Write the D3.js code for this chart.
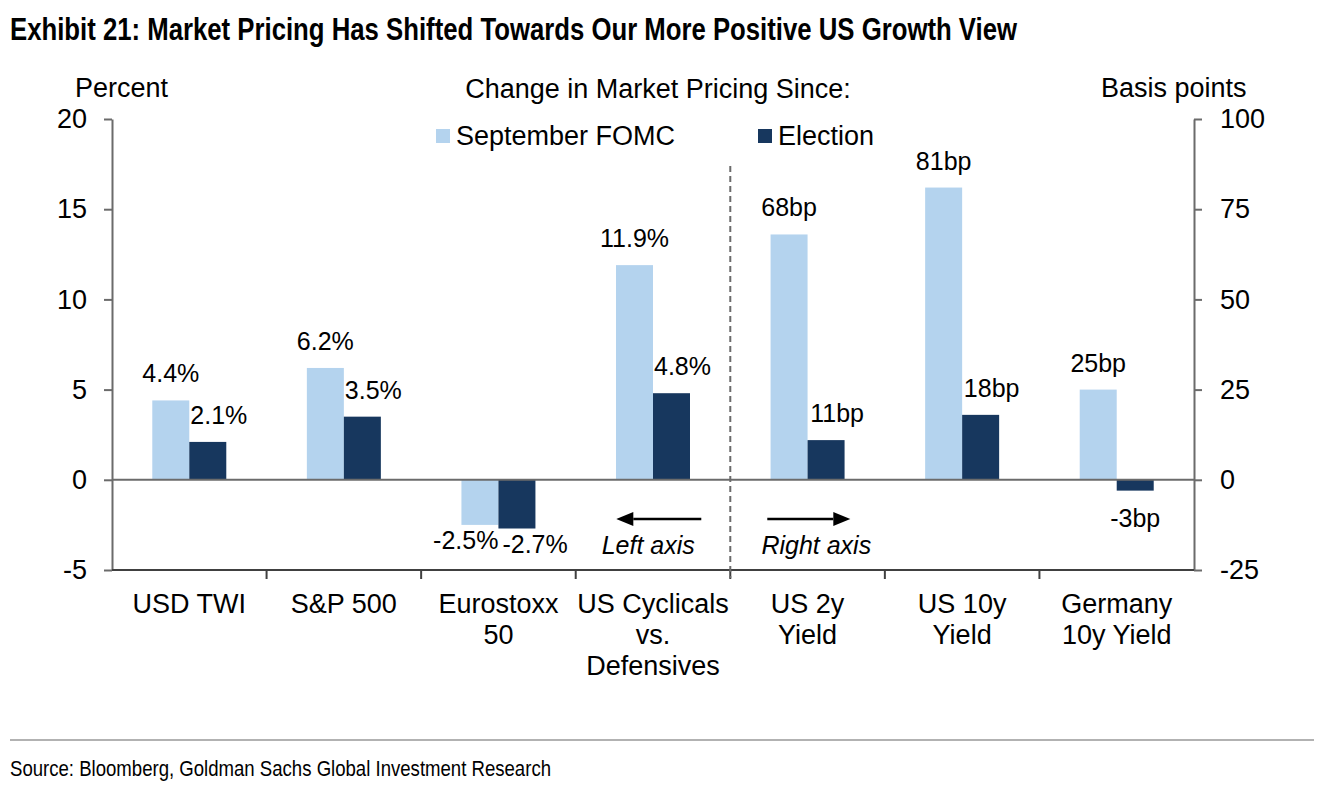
<!DOCTYPE html>
<html><head><meta charset="utf-8">
<script src="https://cdn.jsdelivr.net/npm/d3@7"></script>
<style>
html,body{margin:0;padding:0;background:#fff;}
svg{display:block;}
text{font-family:Arial,"Liberation Sans",sans-serif;fill:#000;}
</style></head>
<body>
<svg id="chart" width="1324" height="794"></svg>
<script>
// ---- data ----
const categories = [["USD TWI"],["S&P 500"],["Eurostoxx","50"],["US Cyclicals","vs.","Defensives"],["US 2y","Yield"],["US 10y","Yield"],["Germany","10y Yield"]];
const axisSide = ["left","left","left","left","right","right","right"];
const seriesNames = ["September FOMC","Election"];
const septemberFOMC = [4.4, 6.2, -2.5, 11.9, 68, 81, 25];
const election = [2.1, 3.5, -2.7, 4.8, 11, 18, -3];
const leftTicks = [-5, 0, 5, 10, 15, 20];
const rightTicks = [-25, 0, 25, 50, 75, 100];
const colors = ["#B4D3EE", "#17375E"];

const svg = d3.select("#chart");
const L = 112, R = 1194, T = 119, B = 570;

const x = d3.scaleBand().domain(d3.range(categories.length)).range([L, R]).paddingInner(0).paddingOuter(0);
const bw = 37;
const yL = d3.scaleLinear().domain([-5, 20]).range([B, T]);
const yR = d3.scaleLinear().domain([-25, 100]).range([B, T]);
const yFor = i => axisSide[i] === "left" ? yL : yR;
const fmt = (v, i) => axisSide[i] === "left" ? v.toFixed(1) + "%" : String(v) + "bp";

// title
svg.append("text").attr("x", 10).attr("y", 40)
  .style("font-family", "'Liberation Sans Narrow','Arial Narrow',Arial,sans-serif")
  .style("font-weight", "bold").style("font-size", "31px")
  .attr("textLength", 1007).attr("lengthAdjust", "spacingAndGlyphs")
  .text("Exhibit 21: Market Pricing Has Shifted Towards Our More Positive US Growth View");

// axis headers
svg.append("text").attr("x", 75).attr("y", 97).style("font-size", "27px").text("Percent");
svg.append("text").attr("x", 1101).attr("y", 97).style("font-size", "27px").text("Basis points");
svg.append("text").attr("x", 658).attr("y", 98).attr("text-anchor", "middle").style("font-size", "27px").text("Change in Market Pricing Since:");

// legend
const legendItems = [{x: 436, tx: 456}, {x: 758, tx: 778}];
seriesNames.forEach((n, k) => {
  svg.append("rect").attr("x", legendItems[k].x).attr("y", 129).attr("width", 14).attr("height", 14).attr("fill", colors[k]);
  svg.append("text").attr("x", legendItems[k].tx).attr("y", 145).style("font-size", "27px").text(n);
});

// axes
const axisColor = "#6b6b6b";
const gL = svg.append("g").attr("transform", `translate(${L},0)`)
  .call(d3.axisLeft(yL).tickValues(leftTicks).tickFormat(d => String(d)).tickSize(8).tickSizeOuter(0).tickPadding(17));
const gR = svg.append("g").attr("transform", `translate(${R},0)`)
  .call(d3.axisRight(yR).tickValues(rightTicks).tickFormat(d => String(d)).tickSize(8).tickSizeOuter(0).tickPadding(18));
[gL, gR].forEach(g => {
  g.select(".domain").attr("stroke", axisColor).attr("stroke-width", 2);
  g.selectAll(".tick line").attr("stroke", axisColor).attr("stroke-width", 2);
  g.selectAll(".tick text").style("font-size", "27px").style("font-family", "Arial,'Liberation Sans',sans-serif").attr("fill", "#000");
});
// bottom axis
svg.append("line").attr("x1", L).attr("x2", R).attr("y1", B).attr("y2", B).attr("stroke", "#404040").attr("stroke-width", 2);
d3.range(1, categories.length).forEach(i => {
  svg.append("line").attr("x1", x(i)).attr("x2", x(i)).attr("y1", B).attr("y2", B + 9).attr("stroke", "#404040").attr("stroke-width", 2);
});

// bars
const series = [septemberFOMC, election];
series.forEach((vals, k) => {
  svg.append("g").selectAll("rect").data(vals).join("rect")
    .attr("x", (d, i) => x(i) + x.bandwidth() / 2 - bw + k * bw)
    .attr("width", bw)
    .attr("y", (d, i) => Math.min(yFor(i)(d), yFor(i)(0)))
    .attr("height", (d, i) => Math.abs(yFor(i)(d) - yFor(i)(0)))
    .attr("fill", colors[k]);
});
// zero line on top
svg.append("line").attr("x1", L).attr("x2", R).attr("y1", yL(0)).attr("y2", yL(0)).attr("stroke", axisColor).attr("stroke-width", 2);

// value labels
series.forEach((vals, k) => {
  svg.append("g").selectAll("text").data(vals).join("text")
    .attr("x", (d, i) => {
      const c = x(i) + x.bandwidth() / 2;
      const bothNeg = septemberFOMC[i] < 0 && election[i] < 0;
      if (bothNeg) return k === 0 ? c : c + 4;
      const shift = (k === 1 && d >= 0) ? 11 : 0;
      return c - bw / 2 + k * bw + shift;
    })
    .attr("text-anchor", (d, i) => {
      const bothNeg = septemberFOMC[i] < 0 && election[i] < 0;
      if (bothNeg) return k === 0 ? "end" : "start";
      return "middle";
    })
    .attr("y", (d, i) => {
      const y = yFor(i)(d);
      if (d >= 0) return y - 18;
      return axisSide[i] === "left" ? y + 24 : y + 36;
    })
    .style("font-size", "25px")
    .text((d, i) => fmt(d, i));
});

// category labels
categories.forEach((lines, i) => {
  const t = svg.append("text").attr("x", x(i) + x.bandwidth() / 2).attr("y", 613)
    .attr("text-anchor", "middle").style("font-size", "27px");
  lines.forEach((ln, j) => t.append("tspan").attr("x", x(i) + x.bandwidth() / 2).attr("y", 613 + j * 31).text(ln));
});

// divider
const div = x(4);
svg.append("line").attr("x1", div).attr("x2", div).attr("y1", 166).attr("y2", 578)
  .attr("stroke", "#6b6b6b").attr("stroke-width", 2).attr("stroke-dasharray", "6,4");

// arrows
function arrow(x1, x2, y) {
  const dir = Math.sign(x2 - x1);
  const hl = 17, hh = 7;
  svg.append("line").attr("x1", x1).attr("x2", x2 - dir * hl).attr("y1", y).attr("y2", y).attr("stroke", "#000").attr("stroke-width", 2.5);
  svg.append("path").attr("d", `M${x2},${y} L${x2 - dir * hl},${y - hh} L${x2 - dir * hl},${y + hh} Z`).attr("fill", "#000");
}
arrow(div - 29, div - 114, 519);
arrow(div + 37, div + 120, 519);
svg.append("text").attr("x", div - 82).attr("y", 554).attr("text-anchor", "middle").style("font-size", "25px").style("font-style", "italic").text("Left axis");
svg.append("text").attr("x", div + 86).attr("y", 554).attr("text-anchor", "middle").style("font-size", "25px").style("font-style", "italic").text("Right axis");

// footer
svg.append("line").attr("x1", 10).attr("x2", 1314).attr("y1", 740).attr("y2", 740).attr("stroke", "#999").attr("stroke-width", 1.5);
svg.append("text").attr("x", 10).attr("y", 776)
  .style("font-family", "'Liberation Sans Narrow','Arial Narrow',Arial,sans-serif").style("font-size", "22px")
  .attr("textLength", 541).attr("lengthAdjust", "spacingAndGlyphs").attr("fill", "#222")
  .text("Source: Bloomberg, Goldman Sachs Global Investment Research");
</script>
</body></html>
